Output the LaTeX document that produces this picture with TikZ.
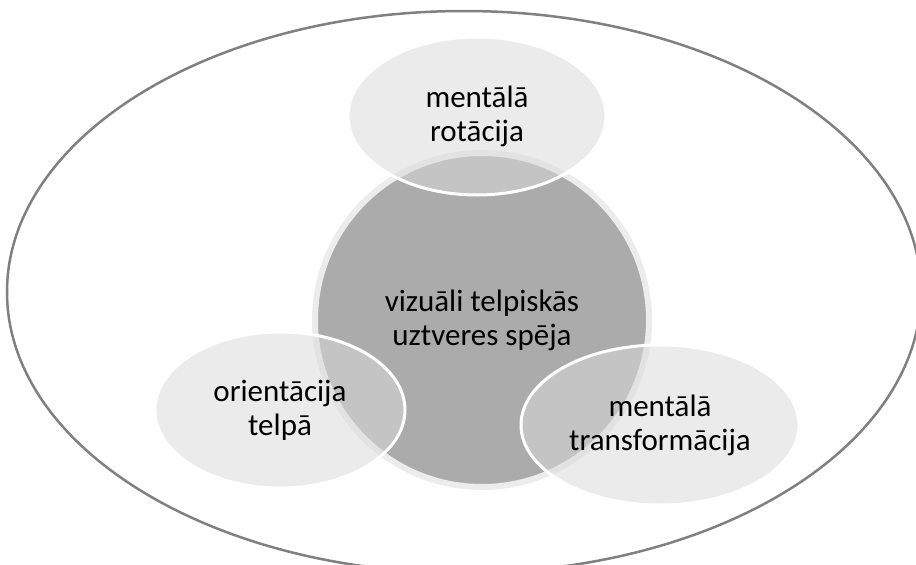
\documentclass[tikz,border=0pt]{standalone}
\usepackage{fontspec}
\setmainfont{Carlito}
\usetikzlibrary{shapes.geometric}

\definecolor{rimgray}{RGB}{236,236,236}
\definecolor{coregray}{RGB}{171,171,171}
\definecolor{skillgray}{RGB}{218,218,218}
\definecolor{framegray}{RGB}{128,128,128}

\begin{document}
\begin{tikzpicture}[
    x=1pt, y=-1pt,
    font=\fontsize{31}{34}\selectfont,
    frame/.style={ellipse, draw=framegray, line width=2.5pt, inner sep=0pt},
    core/.style={circle, draw=rimgray, line width=6pt, fill=coregray,
                 minimum size=334pt, inner sep=0pt, align=center},
    skill/.style={ellipse, draw=white, line width=3pt, fill=skillgray,
                  fill opacity=0.54, text opacity=1, inner sep=0pt,
                  align=center},
  ]
  \useasboundingbox (0,0) rectangle (916,565);

  % --- outer frame ---
  \node[frame, minimum width=914pt, minimum height=562pt] (outer) at (464,292) {};

  % --- central ability ---
  \node[core] (core) at (482,320) {vizuāli telpiskās\\uztveres spēja};

  % --- three component skills ---
  \node[skill, minimum width=258pt, minimum height=158pt] (rot) at (477,116)
    {mentālā\\rotācija};
  \node[skill, minimum width=250pt, minimum height=156pt] (orient) at (280,410)
    {orientācija\\telpā};
  \node[skill, minimum width=278pt, minimum height=160pt] (trans) at (660,425)
    {mentālā\\transformācija};
\end{tikzpicture}
\end{document}
